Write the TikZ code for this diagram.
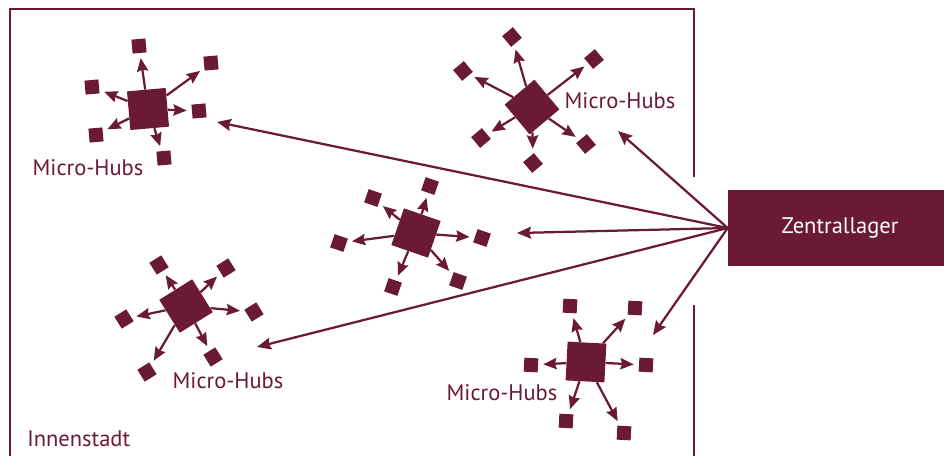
\documentclass[tikz,border=0pt]{standalone}
\usepackage{fontspec}
\setmainfont{PT Sans}
\usetikzlibrary{arrows.meta}
\definecolor{hubc}{RGB}{107,26,52}

\begin{document}
\begin{tikzpicture}[x=0.025cm,y=-0.025cm,
        font=\fontsize{16}{19}\selectfont,
        hubbox/.style={draw=none,fill=hubc,shape=rectangle,minimum width=0.97cm,minimum height=0.97cm,inner sep=0pt},
        satbox/.style={draw=none,fill=hubc,shape=rectangle,minimum width=0.35cm,minimum height=0.35cm,inner sep=0pt},
        subarrow/.style={draw=hubc,line width=1.6pt,-{Stealth[length=9.5pt,width=8pt,inset=1.2pt]},shorten >=3.5pt},
        mainarrow/.style={draw=hubc,line width=1.6pt,-{Stealth[length=10pt,width=8.5pt,inset=1.5pt]}},
        hublabel/.style={text=hubc,inner sep=0pt}]
        \useasboundingbox (0,0) rectangle (944,456);

        % Innenstadt
        \draw[hubc,line width=1.8pt] (10,456) -- (10,9) -- (694,9) -- (694,177);
        \draw[hubc,line width=1.8pt] (694,305) -- (694,456);
        \node[hublabel,anchor=west] (city) at (27,439) {Innenstadt};

        % Zentrallager
        \node[fill=hubc,shape=rectangle,minimum width=5.4cm,minimum height=1.9cm,text=white]
        (zl) at (836,228) {\hspace*{0.2cm}Zentrallager};

        % Micro-Hubs
        \node[hubbox,rotate=5] (hubA) at (148,109) {};
        \foreach \sx/\sy [count=\i] in {139/46, 211/63, 92/87, 199/111, 96/135, 164/158} {
                \node[satbox,rotate=5] (hubA-\i) at (\sx,\sy) {};
                \draw[subarrow] (hubA) -- (hubA-\i);
        }
        \node[hublabel] (labA) at (88,168) {Micro-Hubs};

        \node[hubbox,rotate=40] (hubB) at (532,107) {};
        \foreach \sx/\sy [count=\i] in {512/37, 594/59, 463/71, 481/138, 533/163, 586/144} {
                \node[satbox,rotate=40] (hubB-\i) at (\sx,\sy) {};
                \draw[subarrow] (hubB) -- (hubB-\i);
        }
        \node[hublabel] (labB) at (620,101) {Micro-Hubs};

        \node[hubbox,rotate=-19] (hubC) at (416,233) {};
        \foreach \sx/\sy [count=\i] in {430/186, 373/198, 339/243, 482/238, 393/287, 458/281} {
                \node[satbox,rotate=-19] (hubC-\i) at (\sx,\sy) {};
                \draw[subarrow] (hubC) -- (hubC-\i);
        }

        \node[hubbox,rotate=32] (hubD) at (186,306) {};
        \foreach \sx/\sy [count=\i] in {159/265, 226/268, 124/319, 254/312, 147/372, 213/357} {
                \node[satbox,rotate=32] (hubD-\i) at (\sx,\sy) {};
                \draw[subarrow] (hubD) -- (hubD-\i);
        }
        \node[hublabel] (labD) at (228,381) {Micro-Hubs};

        \node[hubbox,rotate=-3] (hubE) at (586,362) {};
        \foreach \sx/\sy [count=\i] in {570/306, 635/308, 531/365, 646/365, 566/421, 624/433} {
                \node[satbox,rotate=-3] (hubE-\i) at (\sx,\sy) {};
                \draw[subarrow] (hubE) -- (hubE-\i);
        }
        \node[hublabel] (labE) at (502,393) {Micro-Hubs};

        % Belieferung
        \coordinate (tipA) at (217,122);
        \coordinate (tipB) at (618,131);
        \coordinate (tipC) at (517,233);
        \coordinate (tipD) at (257,347);
        \coordinate (tipE) at (653,335);
        \foreach \t in {tipA,tipB,tipC,tipD,tipE}
                \draw[mainarrow] (zl.west) -- (\t);

\end{tikzpicture}
\end{document}
